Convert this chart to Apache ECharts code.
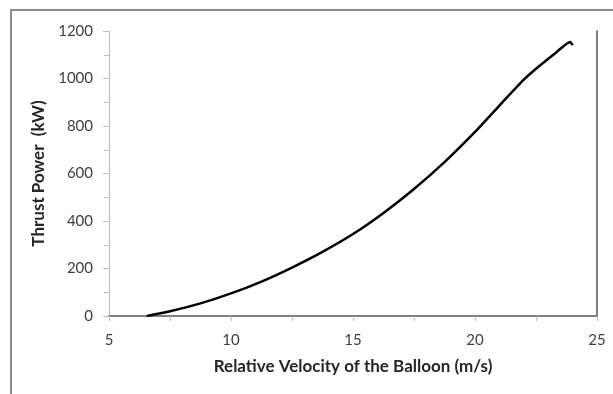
<!DOCTYPE html>
<html>
<head>
<meta charset="utf-8">
<script src="https://cdn.jsdelivr.net/npm/echarts@6/dist/echarts.min.js"></script>
<style>
  html, body { margin: 0; padding: 0; background: #fff; }
  #chart { width: 613px; height: 394px; }
</style>
</head>
<body>
<div id="chart"></div>
<script>
// Relative velocity of the balloon (m/s)
const velocity = [6.55, 7.5, 8.75, 10, 11.25, 12.5, 13.75, 15, 16.25, 17.5, 18.75, 20, 21, 22, 22.5, 23.35, 23.9, 24.0];
// Thrust power (kW)
const thrustPower = [0, 20, 53, 95, 145, 204, 270, 345, 434, 535, 648, 775, 886, 995, 1041, 1112, 1154, 1140];

const xTicks = { min: 5, max: 25, step: 5 };
const yTicks = { min: 0, max: 1200, step: 200 };

const points = velocity.map((v, i) => [v, thrustPower[i]]);

const fontFamily = 'Lato, "Open Sans", sans-serif';
const plain = v => String(v);
const chart = echarts.init(document.getElementById('chart'), null, { renderer: 'canvas' });

chart.setOption({
  animation: false,
  backgroundColor: '#fff',
  graphic: [{
    type: 'rect',
    shape: { x: 11, y: 10, width: 640, height: 420 },
    style: { fill: 'none', stroke: '#8c8c8c', lineWidth: 2 },
    silent: true
  }],
  grid: { left: 109, right: 16, top: 31, bottom: 78 },
  xAxis: [{
    type: 'value',
    min: xTicks.min, max: xTicks.max, interval: xTicks.step,
    name: 'Relative Velocity of the Balloon (m/s)',
    nameLocation: 'middle', nameGap: 42,
    nameTextStyle: { fontFamily, fontWeight: 'bold', fontSize: 17, color: '#262626' },
    axisLine: { show: true, lineStyle: { color: '#bfbfbf', width: 1 } },
    axisTick: { show: true, inside: false, length: 5, lineStyle: { color: '#bfbfbf' } },
    minorTick: { show: true, splitNumber: 2, length: 5, lineStyle: { color: '#bfbfbf' } },
    axisLabel: { fontFamily, fontSize: 15, color: '#404040', margin: 17, formatter: plain },
    splitLine: { show: false }
  }, {
    type: 'value', position: 'top',
    min: xTicks.min, max: xTicks.max,
    axisLine: { show: true, lineStyle: { color: '#7f7f7f', width: 2 } },
    axisTick: { show: false }, axisLabel: { show: false }, splitLine: { show: false }
  }],
  yAxis: [{
    type: 'value',
    min: yTicks.min, max: yTicks.max, interval: yTicks.step,
    name: 'Thrust Power  (kW)',
    nameLocation: 'middle', nameGap: 53,
    nameTextStyle: { fontFamily, fontWeight: 'bold', fontSize: 17, color: '#262626' },
    axisLine: { show: true, lineStyle: { color: '#bfbfbf', width: 1 } },
    axisTick: { show: true, inside: false, length: 6, lineStyle: { color: '#bfbfbf' } },
    minorTick: { show: true, splitNumber: 2, length: 5, lineStyle: { color: '#bfbfbf' } },
    axisLabel: { fontFamily, fontSize: 15, color: '#404040', margin: 16, formatter: plain },
    splitLine: { show: false }
  }, {
    type: 'value', position: 'right',
    min: yTicks.min, max: yTicks.max,
    axisLine: { show: true, lineStyle: { color: '#7f7f7f', width: 2 } },
    axisTick: { show: false }, axisLabel: { show: false }, splitLine: { show: false }
  }],
  series: [{
    type: 'line',
    data: points,
    xAxisIndex: 0, yAxisIndex: 0,
    smooth: 0.2,
    showSymbol: false,
    lineStyle: { color: '#000', width: 2.5 }
  }]
});
</script>
</body>
</html>
